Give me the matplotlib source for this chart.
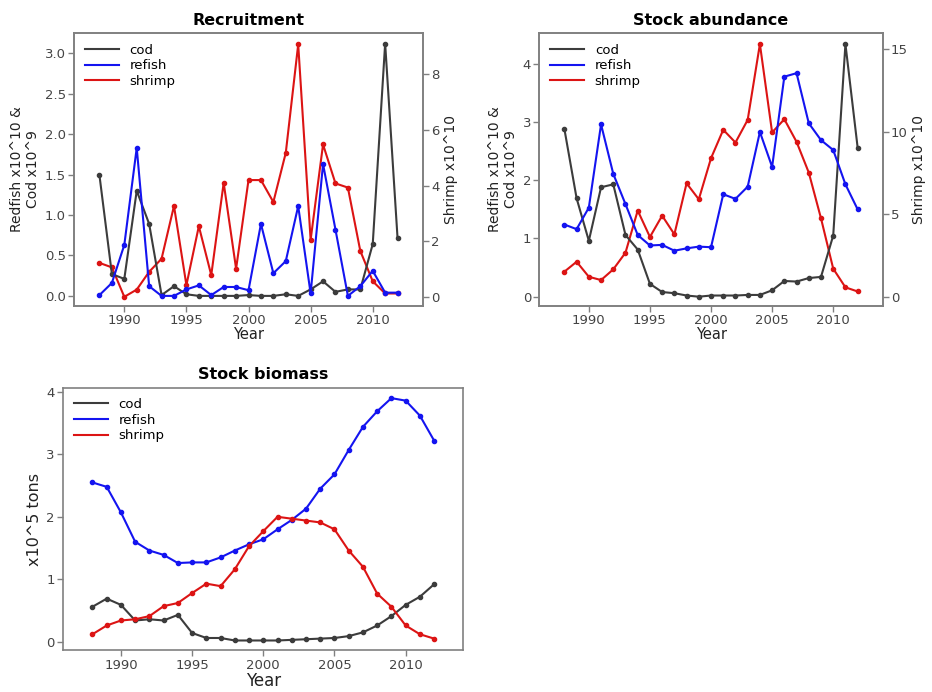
import matplotlib.pyplot as plt
from matplotlib.lines import Line2D

years = list(range(1988, 2013))

# Recruitment
rec_cod = [1.49, 0.27, 0.21, 1.30, 0.89, 0.01, 0.12, 0.02, 0.0, 0.0, 0.0, 0.0, 0.01,
           0.0, 0.0, 0.02, 0.0, 0.08, 0.18, 0.05, 0.08, 0.08, 0.64, 3.12, 0.71]
rec_refish = [0.01, 0.16, 0.63, 1.83, 0.12, 0.0, 0.0, 0.08, 0.13, 0.01, 0.11, 0.11, 0.07,
              0.89, 0.28, 0.43, 1.11, 0.03, 1.63, 0.82, 0.0, 0.12, 0.31, 0.04, 0.04]
rec_shrimp = [1.22, 1.06, 0.0, 0.26, 0.90, 1.37, 3.27, 0.42, 2.54, 0.78, 4.10, 1.01, 4.20,
              4.20, 3.41, 5.18, 9.08, 2.05, 5.48, 4.08, 3.93, 1.65, 0.56, 0.12, 0.12]

# Stock abundance
abu_cod = [2.88, 1.69, 0.96, 1.88, 1.93, 1.06, 0.81, 0.22, 0.08, 0.06, 0.02, 0.0, 0.02,
           0.02, 0.02, 0.03, 0.03, 0.11, 0.27, 0.26, 0.32, 0.34, 1.05, 4.34, 2.56]
abu_refish = [1.24, 1.16, 1.53, 2.96, 2.11, 1.59, 1.06, 0.88, 0.89, 0.79, 0.83, 0.86, 0.85,
              1.76, 1.68, 1.89, 2.83, 2.23, 3.78, 3.84, 2.98, 2.69, 2.52, 1.93, 1.50]
abu_shrimp = [1.52, 2.12, 1.21, 1.01, 1.66, 2.67, 5.22, 3.62, 4.91, 3.78, 6.87, 5.90, 8.39,
              10.11, 9.34, 10.71, 15.30, 9.95, 10.75, 9.38, 7.52, 4.75, 1.70, 0.57, 0.32]

# Stock biomass
bio_cod = [0.56, 0.69, 0.59, 0.34, 0.36, 0.34, 0.43, 0.14, 0.06, 0.06, 0.02, 0.02, 0.02,
           0.02, 0.03, 0.04, 0.05, 0.06, 0.09, 0.15, 0.26, 0.41, 0.59, 0.72, 0.92]
bio_refish = [2.55, 2.48, 2.07, 1.60, 1.46, 1.39, 1.26, 1.27, 1.27, 1.35, 1.46, 1.56, 1.64,
              1.80, 1.95, 2.13, 2.45, 2.68, 3.07, 3.44, 3.69, 3.90, 3.86, 3.62, 3.22]
bio_shrimp = [0.12, 0.26, 0.34, 0.36, 0.41, 0.57, 0.62, 0.78, 0.93, 0.89, 1.16, 1.53, 1.77,
              2.00, 1.97, 1.94, 1.91, 1.80, 1.46, 1.20, 0.77, 0.56, 0.26, 0.12, 0.05]

c_cod = '#3c3c3c'
c_ref = '#1414f0'
c_shr = '#dc1414'
spine_c = '#808080'
tick_c = '#444444'

fig = plt.figure(figsize=(9.32, 6.92), dpi=100)


def style(ax):
    for s in ax.spines.values():
        s.set_color(spine_c)
        s.set_linewidth(1.2)
    ax.tick_params(colors=spine_c, labelcolor=tick_c, labelsize=9.5, length=4, width=1, pad=2)


def panel(rect, title, cod, ref, shr, ylim, ticks, ylabel, ylabel_size=10,
          rlim=None, rticks=None, xlabel_size=10.5, xlabel_pad=0):
    ax = fig.add_axes(rect)
    ax.plot(years, cod, color=c_cod, lw=1.5, marker='o', ms=3)
    ax.plot(years, ref, color=c_ref, lw=1.5, marker='o', ms=3)
    if rlim is None:
        ax.plot(years, shr, color=c_shr, lw=1.5, marker='o', ms=3)
    else:
        ax2 = ax.twinx()
        ax2.plot(years, shr, color=c_shr, lw=1.5, marker='o', ms=3)
        ax2.set_ylim(rlim)
        ax2.set_yticks(rticks)
        ax2.set_ylabel('Shrimp x10^10', fontsize=10, color='#222222', labelpad=3)
        style(ax2)
        ax.set_zorder(ax2.get_zorder() + 1)
        ax.patch.set_visible(False)
    ax.set_xlim(1985.95, 2014.05)
    ax.set_xticks([1990, 1995, 2000, 2005, 2010])
    ax.set_ylim(ylim)
    ax.set_yticks(ticks)
    ax.set_title(title, fontsize=11.5, fontweight='bold', pad=6)
    ax.set_xlabel('Year', fontsize=xlabel_size, color='#222222', labelpad=xlabel_pad)
    ax.set_ylabel(ylabel, fontsize=ylabel_size, color='#222222', labelpad=3)
    style(ax)
    handles = [Line2D([], [], color=c, lw=1.5) for c in (c_cod, c_ref, c_shr)]
    ax.legend(handles, ['cod', 'refish', 'shrimp'], loc='upper left', frameon=False,
              fontsize=9.5, handlelength=2.6, labelspacing=0.2, borderaxespad=0.4)
    return ax


ax = panel([0.0794, 0.5578, 0.3745, 0.3945], 'Recruitment', rec_cod, rec_refish, rec_shrimp,
           (-0.125, 3.25), [0.0, 0.5, 1.0, 1.5, 2.0, 2.5, 3.0], 'Redfish x10^10 &\nCod x10^9',
           rlim=(-0.33, 9.49), rticks=[0, 2, 4, 6, 8])
ax.set_yticklabels(['0.0', '0.5', '1.0', '1.5', '2.0', '2.5', '3.0'])

panel([0.5787, 0.5578, 0.3684, 0.3945], 'Stock abundance', abu_cod, abu_refish, abu_shrimp,
      (-0.16, 4.53), [0, 1, 2, 3, 4], 'Redfish x10^10 &\nCod x10^9',
      rlim=(-0.56, 15.97), rticks=[0, 5, 10, 15])

ax = panel([0.0679, 0.06, 0.4292, 0.38], 'Stock biomass', bio_cod, bio_refish, bio_shrimp,
           (-0.14, 4.07), [0, 1, 2, 3, 4], 'x10^5 tons', ylabel_size=11.5, xlabel_size=12,
           xlabel_pad=0)

fig.savefig('out.png', dpi=100)
